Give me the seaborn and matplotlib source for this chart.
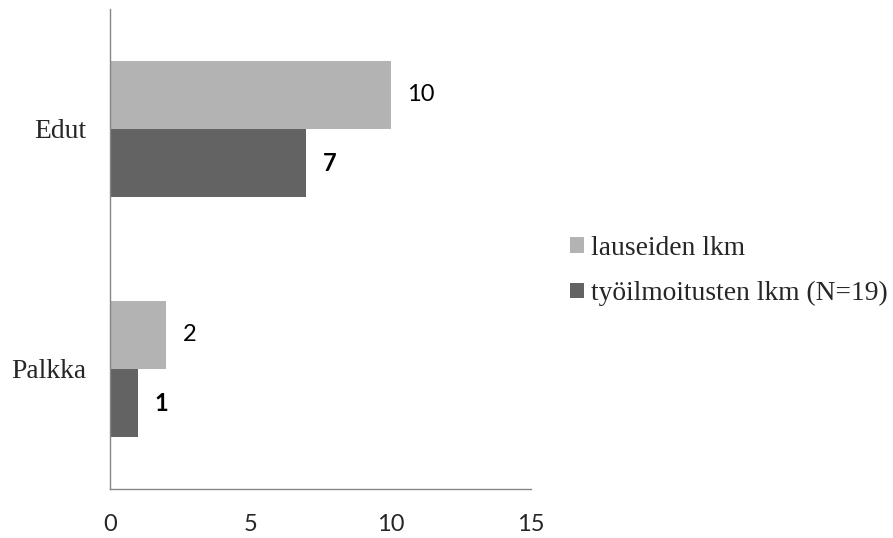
import matplotlib
matplotlib.use("Agg")
import matplotlib.pyplot as plt
import seaborn as sns
import pandas as pd

categories = ["Edut", "Palkka"]
series = ["lauseiden lkm", "työilmoitusten lkm (N=19)"]
lauseiden = [10, 2]
ilmoitukset = [7, 1]
x_ticks = [0, 5, 10, 15]
colors = ["#B3B3B3", "#636363"]

df = pd.DataFrame({
    "kategoria": categories * 2,
    "sarja": [series[0]] * len(categories) + [series[1]] * len(categories),
    "arvo": lauseiden + ilmoitukset,
})

sns.set_style("white")
plt.rcParams["font.family"] = ["Liberation Serif", "DejaVu Serif"]

fig = plt.figure(figsize=(8.93, 5.38), dpi=100)
ax = fig.add_axes([110 / 893, 49 / 538, 421 / 893, 480 / 538])

sns.barplot(data=df, y="kategoria", x="arvo", hue="sarja", orient="h",
            palette=colors, width=0.57, saturation=1, gap=0, ax=ax,
            edgecolor="none", linewidth=0)

# value labels beside each bar, the second series in bold
for cont, weight in zip(ax.containers, ["normal", "bold"]):
    ax.bar_label(cont, labels=[f"{v:g}" for v in cont.datavalues], padding=12,
                 fontsize=17, fontfamily="Lato", fontweight=weight, color="black")

ax.set_xlim(0, 15)
ax.set_ylim(1.5, -0.5)
ax.set_xticks(x_ticks)
ax.set_xticklabels([str(t) for t in x_ticks], fontfamily="Lato", fontsize=17)
ax.set_yticks([0, 1])
ax.set_yticklabels(categories, fontsize=19.8)
ax.set_yticks([-0.5, 0.5, 1.5], minor=True)
ax.tick_params(axis="y", which="major", length=0, pad=17)
ax.tick_params(axis="y", which="minor", length=5.8, width=1, color="#868686", direction="out")
ax.tick_params(axis="x", length=5.8, width=1, color="#868686", direction="out", pad=12.5)
ax.set_xlabel("")
ax.set_ylabel("")

for side in ["top", "right"]:
    ax.spines[side].set_visible(False)
for side in ["left", "bottom"]:
    ax.spines[side].set_color("#868686")
    ax.spines[side].set_linewidth(1)

handles, labels = ax.get_legend_handles_labels()
ax.legend(handles, labels, loc="center left", bbox_to_anchor=(570 / 893, 1 - 271 / 538),
          bbox_transform=fig.transFigure, frameon=False, prop={"size": 19.8},
          handlelength=0.5, handleheight=0.5, handletextpad=0.25, labelspacing=0.73,
          borderpad=0, borderaxespad=0)

fig.savefig("out.png", dpi=100)
